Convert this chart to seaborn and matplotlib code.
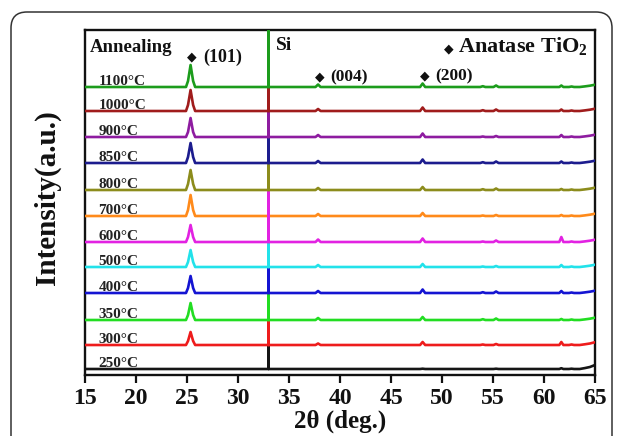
import numpy as np
import pandas as pd
import matplotlib
matplotlib.use("Agg")
import matplotlib.pyplot as plt
import seaborn as sns
from matplotlib.patches import FancyBboxPatch

# ---------------- data ----------------
two_theta = [15, 24.9, 25.1, 25.35, 25.6, 25.8, 32.999, 33.0, 33.001,
             37.6, 37.85, 38.1, 47.85, 48.1, 48.35, 53.75, 54.0, 54.25,
             55.05, 55.3, 55.55, 61.5, 61.7, 61.9, 62.45, 62.7, 62.95,
             63.5, 64.0, 64.5, 65]

temps = ["250", "300", "350", "400", "500", "600", "700", "800",
         "850", "900", "1000", "1100"]
offsets = [6, 30, 55, 82, 108, 133, 159, 185, 212, 238, 264, 288]

i_250 = [0, 0, 0, 0, 0, 0, 0, 400, 0, 0, 0, 0, 0, 0.3, 0, 0, 0, 0,
         0, 0.3, 0, 0, 0.8, 0, 0, 0.3, 0, 0, 0.9, 2.0, 4.0]
i_300 = [0, 0, 4, 13, 4, 0, 0, 400, 0, 0, 1.5, 0, 0, 3, 0, 0, 0.5, 0,
         0, 1, 0, 0, 3, 0, 0, 0.5, 0, 0, 0.7, 1.5, 2.8]
i_350 = [0, 0, 5, 17, 5, 0, 0, 400, 0, 0, 2, 0, 0, 3, 0, 0, 0.8, 0,
         0, 1.5, 0, 0, 1, 0, 0, 0.5, 0, 0, 0.6, 1.3, 2.3]
i_400 = [0, 0, 5, 17, 5, 0, 0, 400, 0, 0, 2, 0, 0, 3.5, 0, 0, 0.8, 0,
         0, 1.5, 0, 0, 2, 0, 0, 0.5, 0, 0, 0.6, 1.3, 2.3]
i_500 = [0, 0, 5, 17, 5, 0, 0, 400, 0, 0, 2, 0, 0, 3, 0, 0, 0.5, 0,
         0, 1, 0, 0, 2, 0, 0, 0.5, 0, 0, 0.6, 1.3, 2.3]
i_600 = [0, 0, 5, 17, 5, 0, 0, 400, 0, 0, 2.5, 0, 0, 3.5, 0, 0, 0.5, 0,
         0, 1.5, 0, 0, 5, 0, 0, 0.5, 0, 0, 0.6, 1.3, 2.3]
i_700 = [0, 0, 6, 21, 6, 0, 0, 400, 0, 0, 2, 0, 0, 3, 0, 0, 0.5, 0,
         0, 1, 0, 0, 1, 0, 0, 0.5, 0, 0, 0.6, 1.3, 2.3]
i_800 = [0, 0, 6, 20, 6, 0, 0, 400, 0, 0, 2, 0, 0, 3, 0, 0, 0.8, 0,
         0, 1.5, 0, 0, 1, 0, 0, 0.5, 0, 0, 0.6, 1.3, 2.3]
i_850 = [0, 0, 6, 20, 6, 0, 0, 400, 0, 0, 2, 0, 0, 3.5, 0, 0, 0.8, 0,
         0, 1.5, 0, 0, 1.5, 0, 0, 0.5, 0, 0, 0.6, 1.3, 2.3]
i_900 = [0, 0, 5, 19, 5, 0, 0, 400, 0, 0, 2, 0, 0, 3.5, 0, 0, 0.5, 0,
         0, 1, 0, 0, 2, 0, 0, 0.5, 0, 0, 0.6, 1.3, 2.3]
i_1000 = [0, 0, 6, 21, 6, 0, 0, 400, 0, 0, 2, 0, 0, 3.5, 0, 0, 0.8, 0,
          0, 1.5, 0, 0, 1.5, 0, 0, 0.5, 0, 0, 0.6, 1.3, 2.3]
i_1100 = [0, 0, 6, 22, 6, 0, 0, 400, 0, 0, 2.5, 0, 0, 3.5, 0, 0, 0.8, 0,
          0, 1.5, 0, 0, 1.5, 0, 0, 0.5, 0, 0, 0.6, 1.3, 2.3]

intensities = [i_250, i_300, i_350, i_400, i_500, i_600, i_700, i_800,
               i_850, i_900, i_1000, i_1100]
colors = ["#151515", "#ee1c1c", "#22dd22", "#1414d2", "#22e2ea", "#e222e2",
          "#ff8a1a", "#8c8c1c", "#1c1c8e", "#8e1ca0", "#a01c1c", "#1c9c1c"]
draw_z = [2, 3, 4, 5, 6, 8, 7, 9, 10, 11, 12, 13]

x_ticks = [15, 20, 25, 30, 35, 40, 45, 50, 55, 60, 65]

# ---------------- style ----------------
sns.set_theme(style="white")
plt.rcParams["font.family"] = ["Liberation Serif", "DejaVu Sans"]
plt.rcParams["font.weight"] = "bold"
plt.rcParams["mathtext.fontset"] = "custom"
plt.rcParams["mathtext.rm"] = "Liberation Serif:bold"
plt.rcParams["mathtext.bf"] = "Liberation Serif:bold"
plt.rcParams["mathtext.it"] = "Liberation Serif:bold"

fig = plt.figure(figsize=(6.24, 4.36), dpi=100)
ax = fig.add_axes([85 / 624, 1 - 375 / 436, 510 / 624, 345 / 436])

for t, off, vals, col, z in zip(temps, offsets, intensities, colors, draw_z):
    df = pd.DataFrame({"two_theta": two_theta,
                       "intensity": np.array(vals, dtype=float) + off})
    sns.lineplot(data=df, x="two_theta", y="intensity", color=col, lw=1.9,
                 ax=ax, sort=False, estimator=None, zorder=z)
    ax.text(16.3, off + 1.8, f"{t}°C", fontsize=11, fontweight="bold",
            color="#222222", va="baseline", ha="left", zorder=20)

ax.set_xlim(15, 65)
ax.set_ylim(0, 345)
ax.set_xticks(x_ticks)
ax.set_xticklabels([str(v) for v in x_ticks], fontsize=17, fontweight="bold")
ax.set_yticks([])
ax.tick_params(axis="x", direction="out", length=6, width=1.6, pad=3,
               bottom=True, colors="#111111")
ax.set_xlabel("2θ (deg.)", fontsize=18, fontweight="bold", labelpad=1,
              color="#111111")
ax.set_ylabel("Intensity(a.u.)", fontsize=21, fontweight="bold",
              color="#111111")
ax.yaxis.set_label_coords(-0.048, 0.515)
for s in ax.spines.values():
    s.set_visible(True)
    s.set_linewidth(1.7)
    s.set_color("#111111")

diamond_kw = dict(fontsize=9, family=["DejaVu Sans"], ha="center",
                  va="center", color="#111111", zorder=21)
label_kw = dict(fontweight="bold", ha="left", va="center", color="#111111",
                zorder=21)

ax.text(15.5, 328, "Annealing", fontsize=13.5, **label_kw)
ax.text(25.5, 318, "◆", **diamond_kw)
ax.text(26.6, 318, "(101)", fontsize=13, **label_kw)
ax.text(33.7, 329, "Si", fontsize=14, **label_kw)
ax.text(50.7, 326, "◆", **diamond_kw)
ax.text(51.6, 329, "Anatase TiO$_2$", fontsize=16, **label_kw)
ax.text(38.0, 298, "◆", **diamond_kw)
ax.text(39.0, 298, "(004)", fontsize=12.5, **label_kw)
ax.text(48.3, 299, "◆", **diamond_kw)
ax.text(49.3, 299, "(200)", fontsize=12.5, **label_kw)

frame = FancyBboxPatch((0.11, -0.3), 6.01, 4.54,
                       boxstyle="round,pad=0,rounding_size=0.16",
                       transform=fig.dpi_scale_trans, fill=False,
                       edgecolor="#333333", linewidth=1.1)
fig.patches.append(frame)

fig.savefig("out.png", dpi=100)
